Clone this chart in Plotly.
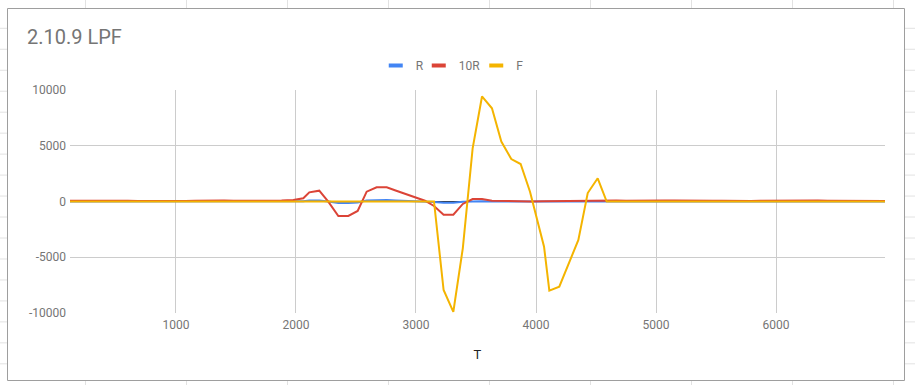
import plotly.graph_objects as go

# ---- data ----
T = [117, 200, 280, 360, 440, 520, 600, 680, 760, 840, 920, 1000, 1080, 1160,
     1240, 1320, 1400, 1480, 1560, 1640, 1720, 1800, 1880, 1978, 2061, 2111,
     2194, 2269, 2353, 2436, 2514, 2589, 2672, 2756, 2830, 2910, 2990, 3075,
     3150, 3230, 3311, 3390, 3472, 3550, 3633, 3711, 3794, 3872, 3950, 4067,
     4111, 4194, 4270, 4353, 4431, 4514, 4589, 4670, 4750, 4830, 4910, 4990,
     5070, 5150, 5230, 5310, 5390, 5470, 5550, 5630, 5710, 5790, 5870, 5950,
     6030, 6110, 6190, 6270, 6350, 6430, 6510, 6590, 6670, 6750, 6830, 6908]

R10 = [60, 70, 50, 60, 80, 70, 60, 50, 40, 50, 30, 20, 40, 70,
       90, 100, 80, 60, 50, 60, 70, 60, 80, 130, 290, 820,
       970, -20, -1300, -1300, -850, 880, 1270, 1270, 990, 690, 390, 70,
       -400, -1180, -1180, -220, 220, 220, 70, 50, 0, -20, 0, 20,
       30, 50, 60, 60, 60, 70, 80, 90, 70, 60, 50, 60,
       80, 90, 70, 50, 40, 60, 70, 50, 40, 50, 70, 80,
       60, 50, 60, 70, 80, 60, 50, 40, 60, 70, 60, 50]

R = [6, 7, 5, 6, 8, 7, 6, 5, 4, 5, 3, 2, 4, 7,
     9, 10, 8, 6, 5, 6, 7, 6, 8, 13, 29, 82,
     97, -2, -130, -130, -85, 88, 127, 127, 99, 69, 39, 7,
     -40, -118, -118, -22, 22, 22, 7, 5, 0, -2, 0, 2,
     3, 5, 6, 6, 6, 7, 8, 9, 7, 6, 5, 6,
     8, 9, 7, 5, 4, 6, 7, 5, 4, 5, 7, 8,
     6, 5, 6, 7, 8, 6, 5, 4, 6, 7, 6, 5]

F = [0, 0, 0, 0, 0, 0, 0, 0, 0, 0, 0, 0, 0, 0,
     0, 0, 0, 0, 0, 0, 0, 0, 0, 0, 0, 0,
     0, 0, 0, 0, 0, 0, 0, 0, 0, 0, 0, 0,
     0, -7940, -9900, -4200, 4770, 9420, 8360, 5370, 3810, 3360, 880, -4050,
     -8000, -7640, -5550, -3450, 760, 2080, 0, 0, 0, 0, 0, 0,
     0, 0, 0, 0, 0, 0, 0, 0, 0, 0, 0, 0,
     0, 0, 0, 0, 0, 0, 0, 0, 0, 0, 0, 0]

SERIES = ["R", "10R", "F"]
COLORS = ["#4285F4", "#DB4437", "#F4B400"]
X_TICKS = [1000, 2000, 3000, 4000, 5000, 6000]
Y_TICKS = [-10000, -5000, 0, 5000, 10000]
Y_TICK_TEXT = ["-10000", "-5000", "0", "5000", "10000"]

W, H = 915, 385
ML, MR, MT, MB = 70, 30, 90, 72
PW, PH = W - ML - MR, H - MT - MB


def px(xp):
    return (xp - ML) / PW


def py(yp):
    return (H - MB - yp) / PH


# legend swatch centres in the reference (pixels)
LEGEND_SWATCH_X = [398.5, 441.5, 499.0]
LEGEND_IDS = ["legend", "legend2", "legend3"]

fig = go.Figure()
for name, vals, col in zip(SERIES, [R, R10, F], COLORS):
    fig.add_trace(go.Scatter(x=T, y=vals, mode="lines", name=name,
                             line=dict(color=col, width=2), showlegend=False))
for name, col, lid in zip(SERIES, COLORS, LEGEND_IDS):
    fig.add_trace(go.Scatter(x=[None], y=[None], mode="markers", name=name,
                             legend=lid,
                             marker=dict(symbol="line-ew", size=10, color=col,
                                         line=dict(width=4, color=col)),
                             showlegend=True))

shapes = []
# chart frame
shapes.append(dict(type="rect", xref="paper", yref="paper",
                   x0=px(7.5), x1=px(904.5), y0=py(380.5), y1=py(8.5),
                   line=dict(color="#9e9e9e", width=1), layer="above"))
# spreadsheet grid peeking around the chart
grid_col = "#e2e2e2"
for xv in [85.5, 186.5, 287.5, 388.5, 489.5, 590.5, 691.5, 792.5, 893.5]:
    shapes.append(dict(type="line", xref="paper", yref="paper",
                       x0=px(xv), x1=px(xv), y0=py(0), y1=py(8),
                       line=dict(color=grid_col, width=1)))
    shapes.append(dict(type="line", xref="paper", yref="paper",
                       x0=px(xv), x1=px(xv), y0=py(381), y1=py(385),
                       line=dict(color=grid_col, width=1)))
for k in range(17):
    yv = 28.3 + 20.97 * k
    shapes.append(dict(type="line", xref="paper", yref="paper",
                       x0=px(0), x1=px(7), y0=py(yv), y1=py(yv),
                       line=dict(color=grid_col, width=1)))
    shapes.append(dict(type="line", xref="paper", yref="paper",
                       x0=px(905), x1=px(915), y0=py(yv), y1=py(yv),
                       line=dict(color=grid_col, width=1)))

legend_layout = {}
for lid, cx in zip(LEGEND_IDS, LEGEND_SWATCH_X):
    legend_layout[lid] = dict(orientation="h", x=px(cx - 22.75),
                              xanchor="left", y=py(65.5), yanchor="middle",
                              font=dict(size=12, color="#757575"),
                              itemwidth=30, borderwidth=0,
                              bgcolor="rgba(0,0,0,0)")

fig.update_layout(
    width=W, height=H,
    margin=dict(l=ML, r=MR, t=MT, b=MB),
    paper_bgcolor="white", plot_bgcolor="white",
    font=dict(family="Roboto, Arial, sans-serif", size=12, color="#757575"),
    title=dict(text="2.10.9 LPF", x=27 / W, xanchor="left", xref="container",
               y=1 - 37 / H, yanchor="middle", yref="container",
               font=dict(size=20, color="#757575")),
    shapes=shapes,
    xaxis=dict(range=[117, 6908], tickvals=X_TICKS, showgrid=True,
               gridcolor="#cccccc", gridwidth=1, zeroline=False,
               showline=False, ticks="", ticklabelstandoff=3,
               tickfont=dict(size=12, color="#757575"),
               title=dict(text="T", font=dict(size=13, color="#222222"),
                          standoff=18)),
    yaxis=dict(range=[-10000, 10000], tickvals=Y_TICKS, ticktext=Y_TICK_TEXT,
               showgrid=True,
               gridcolor="#cccccc", gridwidth=1, zeroline=True,
               zerolinecolor="#333333", zerolinewidth=1,
               showline=False, ticks="", ticklabelstandoff=3,
               tickfont=dict(size=12, color="#757575")),
    **legend_layout,
)

fig.write_html("out.html", config={"displayModeBar": False},
               post_script="document.body.style.margin='0';"
                           "document.body.style.padding='0';")
